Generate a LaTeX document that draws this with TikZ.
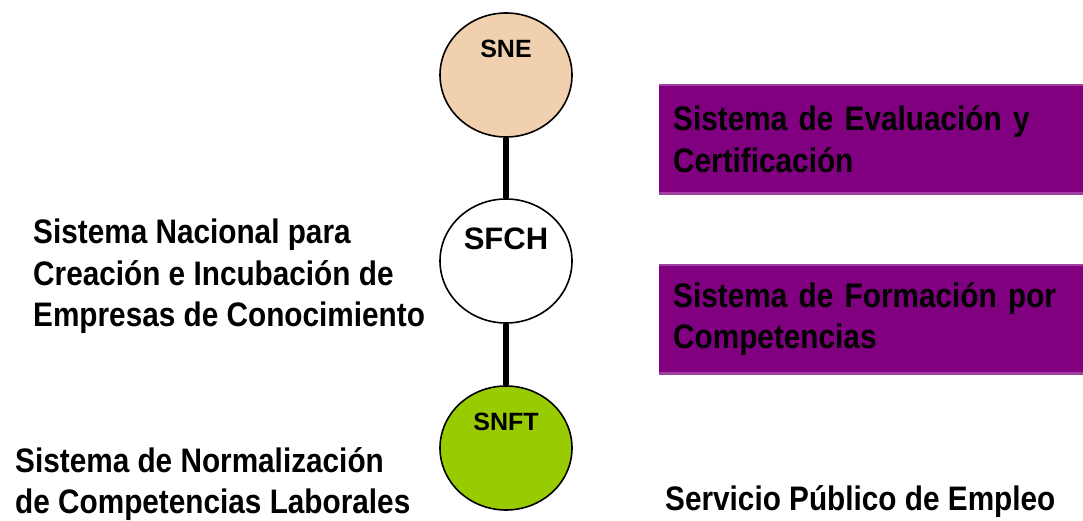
\documentclass[tikz,border=0pt]{standalone}
\usepackage{fontspec}
\setmainfont{Liberation Sans}
\newfontfamily\heavysans[FakeStretch=0.875]{Liberation Sans Bold}
\usetikzlibrary{shapes.geometric}
\definecolor{peach}{HTML}{F1D0B0}
\definecolor{leaf}{HTML}{99CC00}
\definecolor{boxpurple}{HTML}{800080}
\definecolor{boxedge}{HTML}{A040A0}

\tikzset{
  sysdot/.style={ellipse,draw=black,line width=1.6pt,minimum width=132pt,minimum height=124pt,inner sep=0pt},
  dotname/.style={font=\bfseries\fontsize{25}{30}\selectfont,anchor=base,inner sep=0pt},
  sidetext/.style={font=\heavysans\fontsize{34}{41.5}\selectfont,align=left,inner sep=0pt,anchor=north west},
  sysbox/.style={fill=boxpurple,minimum width=424pt,minimum height=108pt,text width=396pt,
    inner xsep=14pt,inner ysep=0pt,align=left,anchor=north west,font=\heavysans\fontsize{34}{41.5}\selectfont},
  link/.style={line width=6pt}
}

\begin{document}
\begin{tikzpicture}[x=1pt,y=-1pt]
\useasboundingbox (0,0) rectangle (1083,521);

% Chain of systems
\node[sysdot,fill=peach] (sne) at (506,75) {};
\node[sysdot,fill=white] (sfch) at (506,261) {};
\node[sysdot,fill=leaf] (snft) at (506,448) {};
\draw[link] (sne) -- (sfch);
\draw[link] (sfch) -- (snft);

% Names inside the circles
\node[dotname] (sne-t) at (506,58) {SNE};
\node[dotname,font=\bfseries\fontsize{31}{36}\selectfont] (sfch-t) at (506,250) {SFCH};
\node[dotname] (snft-t) at (506,430) {SNFT};

% Texts on the left
\node[sidetext] (nacional) at (33,219) {Sistema Nacional para\\Creación e Incubación de\\Empresas de Conocimiento};
\node[sidetext] (normal) at (15,447) {Sistema de Normalización\\de Competencias Laborales};

% Boxes on the right
\node[sysbox] (eval) at (659,85) {Sistema de Evaluación y\\Certificación};
\node[sysbox] (form) at (659,265) {Sistema de Formación por\\Competencias};
\foreach \b in {eval,form} {
  \draw[boxedge,line width=2.5pt] (\b.north west) -- (\b.north east);
  \draw[boxedge,line width=2.5pt] (\b.south west) -- (\b.south east);
}

\node[sidetext] (empleo) at (665,485) {Servicio Público de Empleo};

\end{tikzpicture}
\end{document}
